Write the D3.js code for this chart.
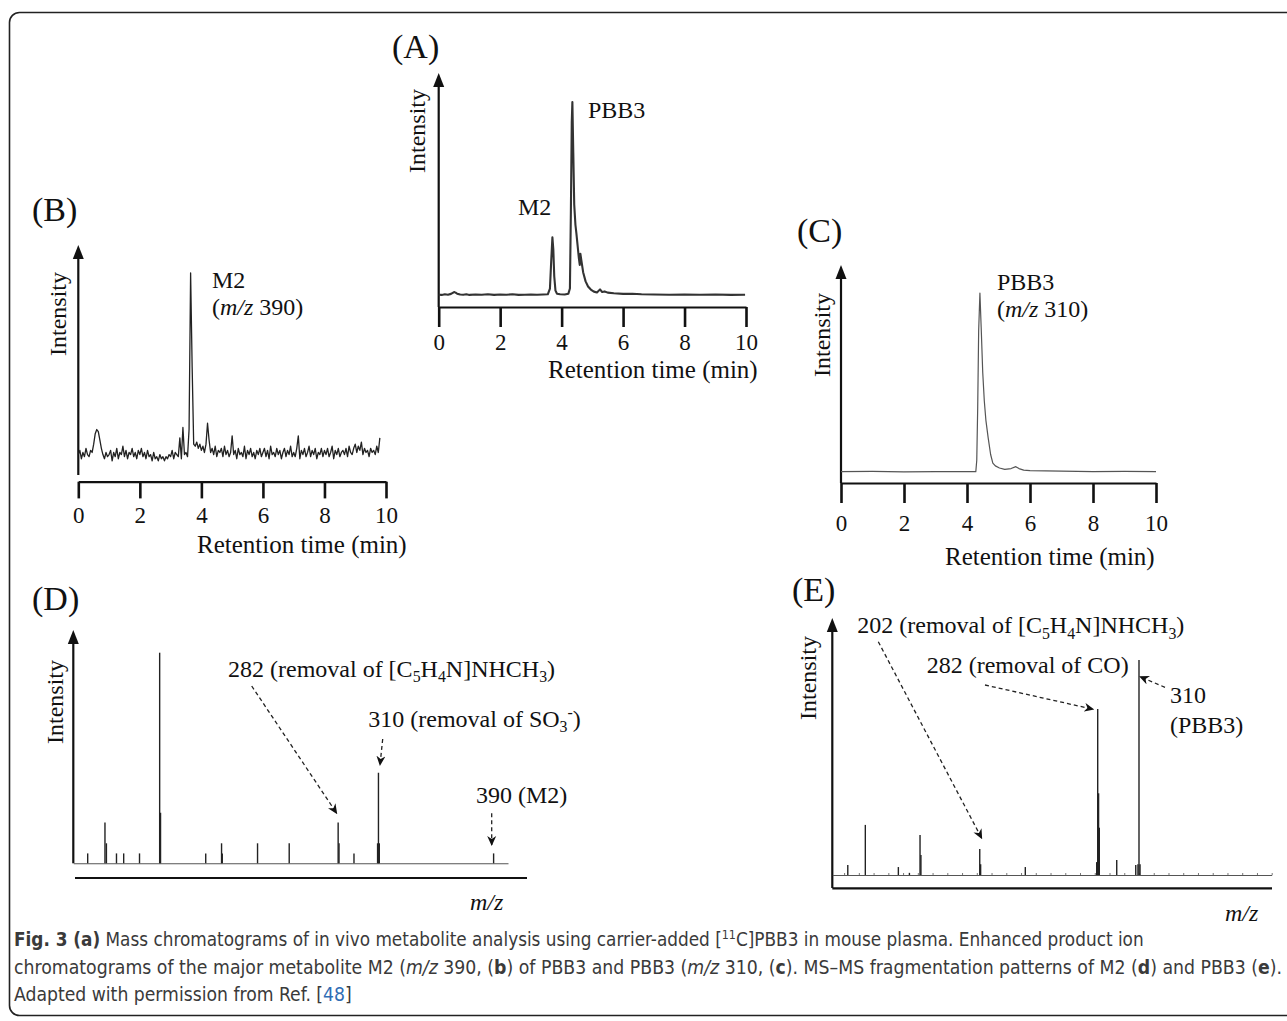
<!DOCTYPE html>
<meta charset="utf-8">
<style>
body { margin: 0; background: #fff; }
svg text { font-family: "Liberation Serif", "Times New Roman", serif; fill: #111; white-space: pre; }
svg .caption text { font-family: "DejaVu Sans Condensed", "DejaVu Sans", sans-serif; font-stretch: condensed; fill: #3a3a3a; }
</style>
<script src="https://d3js.org/d3.v7.min.js"></script>
<body>
<div id="fig"></div>
<script>
// ---------- data ----------
var timeTicks = [0, 2, 4, 6, 8, 10];

// (A) plasma chromatogram: [retention time (min), relative intensity]
var traceA = [
  [0.0,6.0],[0.1,5.9],[0.2,6.2],[0.3,6.0],[0.4,6.4],[0.5,7.3],[0.55,7.0],[0.6,6.5],[0.7,6.1],[0.8,6.0],
  [0.9,6.2],[1.0,5.9],[1.2,6.1],[1.4,6.0],[1.6,6.2],[1.8,5.9],[2.0,6.1],[2.2,6.0],[2.4,6.2],[2.6,5.9],
  [2.8,6.0],[3.0,6.1],[3.2,6.0],[3.4,6.1],[3.55,6.2],[3.62,9],[3.66,22],[3.7,34],[3.73,28],[3.76,15],
  [3.8,8],[3.85,6.5],[3.95,6.2],[4.1,6.1],[4.22,6.5],[4.27,9],[4.3,45],[4.33,90],[4.35,100],[4.38,75],
  [4.41,50],[4.45,40],[4.48,36],[4.52,30],[4.56,24],[4.59,20.5],[4.61,26],[4.64,23],[4.7,17],[4.78,12.5],
  [4.86,10],[4.95,8.5],[5.05,7.5],[5.15,7.1],[5.25,8.6],[5.32,7.3],[5.4,7.6],[5.5,7.0],[5.7,6.7],[6.0,6.4],
  [6.3,6.5],[6.6,6.2],[7.0,6.1],[7.5,6.0],[8.0,6.1],[8.5,6.0],[9.0,6.1],[9.5,5.9],[9.97,6.0]
];

// (B) product ion chromatogram of M2, one value per 0.05 min scan from 0 min
var scanStepB = 0.05;
var intensityB = [
  13,15,11,14,12,16,13,12,15,14,18,23,25,24,20,16,13,11,14,12,
  13,15,10,14,12,16,11,14,13,17,12,15,11,14,13,16,12,14,11,15,
  13,16,12,14,11,15,12,13,10,14,11,12,10,13,11,12,10,12,11,13,
  12,15,11,14,13,12,21,11,26,13,14,12,25,100,55,18,17,19,16,18,
  15,17,14,18,28,20,14,16,13,17,12,15,14,16,12,17,13,15,12,14,
  22,13,15,11,16,13,14,12,17,11,15,13,16,12,14,11,15,13,16,12,
  14,16,12,15,11,17,13,14,12,16,13,15,11,14,16,12,15,13,17,12,
  14,12,16,22,11,15,13,16,12,14,17,12,15,13,16,11,14,13,16,12,
  15,13,16,12,14,17,11,15,13,16,12,14,15,13,16,12,17,14,13,16,
  18,14,17,15,19,13,16,14,15,12,16,14,15,13,17,14,21
];

// (C) product ion chromatogram of PBB3
var traceC = [
  [0,6],[1,6.1],[2,5.9],[3,6],[4,6],[4.28,6],[4.31,12],[4.34,40],[4.37,80],[4.41,100],
  [4.45,82],[4.5,58],[4.55,43],[4.6,33],[4.67,24],[4.75,15],[4.82,10.5],[4.9,9],[5.03,7.9],[5.2,7.2],
  [5.4,7.6],[5.55,8.6],[5.65,7.6],[5.8,6.8],[6,6.5],[7,6.2],[8,6],[9,6.1],[10,6]
];

// (D) MS-MS spectrum of M2: m/z and relative intensity
var mzD  = [108, 120, 121, 128, 133, 144, 158, 158.6, 190, 201, 201.5, 226, 248, 282, 282.6, 293, 309.4, 310, 310.6, 390];
var intD = [4.7, 19.4, 9.5, 4.7, 4.7, 4.7, 100, 24, 4.7, 9.5, 4.7, 9.5, 9.5, 19.4, 9.5, 4.7, 9.5, 43, 9.5, 4.7];

// (E) MS-MS spectrum of PBB3
var mzE  = [112.5, 124.4, 146.8, 154.3, 161.5, 162.1, 202, 202.6, 232.9, 281.3, 282, 282.6, 283.1, 294.9, 307.8, 309.3, 310, 310.7];
var intE = [4.7, 23.3, 3.7, 1, 18.6, 9.3, 12.1, 5, 3.7, 6, 77.2, 38, 22, 7, 4.7, 5, 100, 5];

// ---------- drawing ----------
var svg = d3.select("#fig").append("svg")
    .attr("width", 1287).attr("height", 1021);

var defs = svg.append("defs");
defs.append("marker")
    .attr("id", "dashHead")
    .attr("viewBox", "0 0 10 10")
    .attr("refX", 9).attr("refY", 5)
    .attr("markerWidth", 10).attr("markerHeight", 10)
    .attr("markerUnits", "userSpaceOnUse")
    .attr("orient", "auto")
  .append("path")
    .attr("d", "M0,0.5 L10,5 L0,9.5 L3,5 Z")
    .attr("fill", "#111");

// rounded frame, open past the right edge
svg.append("rect")
    .attr("x", 9.5).attr("y", 12.5)
    .attr("width", 1320).attr("height", 1003)
    .attr("rx", 10)
    .attr("fill", "none").attr("stroke", "#222").attr("stroke-width", 1.6);

// text with sub / superscripts
function richText(parent, x, y, size, parts) {
  var t = parent.append("text").attr("x", x).attr("y", y).attr("font-size", size);
  var shift = 0;
  parts.forEach(function(p) {
    var s = p.sub ? size * 0.24 : (p.sup ? -size * 0.36 : 0);
    t.append("tspan")
      .attr("dy", s - shift)
      .attr("font-size", (p.sub || p.sup) ? size * 0.66 : size)
      .attr("font-style", p.it ? "italic" : null)
      .attr("font-weight", p.b ? "bold" : null)
      .style("fill", p.c || null)
      .text(p.t);
    shift = s;
  });
  return t;
}

function yArrow(x, tip, bottom) {
  svg.append("line")
    .attr("x1", x).attr("x2", x).attr("y1", tip + 8).attr("y2", bottom)
    .attr("stroke", "#111").attr("stroke-width", 2.2);
  svg.append("path")
    .attr("d", "M" + (x - 5.5) + "," + (tip + 14) + " L" + x + "," + tip + " L" + (x + 5.5) + "," + (tip + 14) + " Z")
    .attr("fill", "#111");
}

function rotLabel(cx, cy, size, txt) {
  svg.append("text")
    .attr("transform", "translate(" + cx + "," + cy + ") rotate(-90)")
    .attr("text-anchor", "middle").attr("dy", "0.35em")
    .attr("font-size", size).text(txt);
}

function chromatogram(p) {
  var x = d3.scaleLinear().domain([0, 10]).range([p.x0, p.x1]);
  var y = d3.scaleLinear().domain([0, 100]).range([p.axisY, p.topY]);

  var g = svg.append("g")
      .attr("transform", "translate(0," + p.axisY + ")")
      .call(d3.axisBottom(x).tickValues(timeTicks).tickSize(p.tick).tickSizeOuter(0).tickPadding(p.pad));
  g.attr("font-family", null).attr("font-size", null);
  g.select(".domain").attr("stroke", "#111").attr("stroke-width", 2.2);
  g.selectAll(".tick line").attr("stroke", "#111").attr("stroke-width", 2.6);
  g.selectAll(".tick text").style("font-size", "23px").style("fill", "#111");

  yArrow(p.x0, p.tip, p.yEnd);

  svg.append("path")
    .datum(p.data)
    .attr("fill", "none")
    .attr("stroke", p.color)
    .attr("stroke-width", p.lw)
    .attr("stroke-linejoin", "round")
    .attr("d", d3.line().x(function(d) { return x(d[0]); }).y(function(d) { return y(d[1]); }));

  svg.append("text").attr("x", p.letter[0]).attr("y", p.letter[1]).attr("font-size", 34).text(p.name);
  rotLabel(p.ylab[0], p.ylab[1], 24, "Intensity");
  svg.append("text").attr("x", p.xlab[0]).attr("y", p.xlab[1]).attr("font-size", 25).text("Retention time (min)");
  p.notes.forEach(function(n) { richText(svg, n.x, n.y, 24, n.parts); });
}

chromatogram({
  name: "(A)", data: traceA, color: "#333", lw: 2.1,
  x0: 438.7, x1: 746, axisY: 307, topY: 102, tick: 20, pad: 7, tip: 73, yEnd: 307,
  letter: [392, 58], ylab: [417, 131], xlab: [548, 378],
  notes: [
    {x: 588, y: 118, parts: [{t: "PBB3"}]},
    {x: 518, y: 215, parts: [{t: "M2"}]}
  ]
});

var traceB = intensityB.map(function(v, i) { return [i * scanStepB, v]; });
chromatogram({
  name: "(B)", data: traceB, color: "#222", lw: 1.3,
  x0: 78.3, x1: 386, axisY: 481.7, topY: 273, tick: 16.7, pad: 8, tip: 245, yEnd: 475,
  letter: [32, 221], ylab: [58, 314], xlab: [197, 553],
  notes: [
    {x: 212, y: 288, parts: [{t: "M2"}]},
    {x: 212, y: 315, parts: [{t: "("}, {t: "m/z", it: 1}, {t: " 390)"}]}
  ]
});

chromatogram({
  name: "(C)", data: traceC, color: "#555", lw: 1.2,
  x0: 841, x1: 1156, axisY: 483, topY: 293, tick: 20, pad: 12, tip: 265, yEnd: 483,
  letter: [797, 242], ylab: [822, 335], xlab: [945, 565],
  notes: [
    {x: 997, y: 290, parts: [{t: "PBB3"}]},
    {x: 997, y: 317, parts: [{t: "("}, {t: "m/z", it: 1}, {t: " 310)"}]}
  ]
});

function spectrum(p) {
  var x = d3.scaleLinear().domain(p.domain).range([p.x0, p.x1]);
  var y = d3.scaleLinear().domain([0, 100]).range([p.baseY, p.topY]);

  yArrow(p.x0, p.tip, p.yEnd);
  // m/z axis line
  svg.append("line")
    .attr("x1", p.axis[0]).attr("x2", p.axis[1]).attr("y1", p.axisY).attr("y2", p.axisY)
    .attr("stroke", "#111").attr("stroke-width", 2.2);
  // spectrum baseline with faint scan ticks
  var b = svg.append("g")
      .attr("transform", "translate(0," + p.baseY + ")")
      .call(d3.axisTop(x).ticks(p.minorTicks).tickSize(p.minorTicks ? 2 : 0).tickSizeOuter(0).tickFormat(""));
  b.select(".domain").attr("stroke", "#555").attr("stroke-width", 1.1);
  b.selectAll(".tick line").attr("stroke", "#777").attr("stroke-width", 1);

  svg.append("g").selectAll("line")
    .data(p.mz)
    .enter().append("line")
      .attr("x1", function(d) { return x(d); })
      .attr("x2", function(d) { return x(d); })
      .attr("y1", y(0))
      .attr("y2", function(d, i) { return y(p.int[i]); })
      .attr("stroke", "#222")
      .attr("stroke-width", 1.4);

  svg.append("text").attr("x", p.letter[0]).attr("y", p.letter[1]).attr("font-size", 34).text(p.name);
  rotLabel(p.ylab[0], p.ylab[1], 24, "Intensity");
  richText(svg, p.mzlab[0], p.mzlab[1], 24, [{t: "m/z", it: 1}]);

  p.notes.forEach(function(n) { richText(svg, n.x, n.y, 24, n.parts); });
  p.arrows.forEach(function(a) {
    svg.append("line")
      .attr("x1", a[0]).attr("y1", a[1]).attr("x2", a[2]).attr("y2", a[3])
      .attr("stroke", "#222").attr("stroke-width", 1.3)
      .attr("stroke-dasharray", "4,3")
      .attr("marker-end", "url(#dashHead)");
  });
}

spectrum({
  name: "(D)", mz: mzD, int: intD, domain: [98, 400],
  x0: 73.3, x1: 508, baseY: 863.3, topY: 652.7, tip: 630, yEnd: 863.3,
  axis: [75, 527], axisY: 878, minorTicks: 0,
  letter: [32, 610], ylab: [55, 702], mzlab: [470, 910],
  notes: [
    {x: 228, y: 676.7, parts: [{t: "282 (removal of [C"}, {t: "5", sub: 1}, {t: "H"}, {t: "4", sub: 1}, {t: "N]NHCH"}, {t: "3", sub: 1}, {t: ")"}]},
    {x: 368.3, y: 726.7, parts: [{t: "310 (removal of SO"}, {t: "3", sub: 1}, {t: "-", sup: 1}, {t: ")"}]},
    {x: 476, y: 803.3, parts: [{t: "390 (M2)"}]}
  ],
  arrows: [[251.7, 686, 336.7, 813.3], [382.7, 739, 380, 765], [491.7, 813.3, 491.7, 845]]
});

spectrum({
  name: "(E)", mz: mzE, int: intE, domain: [102, 400],
  x0: 832.3, x1: 1271.7, baseY: 875, topY: 660, tip: 618, yEnd: 888,
  axis: [832.3, 1272], axisY: 888.3, minorTicks: 30,
  letter: [792, 601], ylab: [808, 678], mzlab: [1225, 921],
  notes: [
    {x: 857.3, y: 633.3, parts: [{t: "202 (removal of [C"}, {t: "5", sub: 1}, {t: "H"}, {t: "4", sub: 1}, {t: "N]NHCH"}, {t: "3", sub: 1}, {t: ")"}]},
    {x: 926.7, y: 673.3, parts: [{t: "282 (removal of CO)"}]},
    {x: 1170, y: 703.3, parts: [{t: "310"}]},
    {x: 1170, y: 733.3, parts: [{t: "(PBB3)"}]}
  ],
  arrows: [[878.3, 641.7, 981.7, 838.3], [985, 685, 1093.3, 709.3], [1165, 687.3, 1140, 676.7]]
});

// ---------- caption ----------
var captionLines = [
  [{t: "Fig. 3 (a)", b: 1}, {t: " Mass chromatograms of in vivo metabolite analysis using carrier-added ["}, {t: "11", sup: 1}, {t: "C]PBB3 in mouse plasma. Enhanced product ion"}],
  [{t: "chromatograms of the major metabolite M2 ("}, {t: "m/z", it: 1}, {t: " 390, ("}, {t: "b", b: 1}, {t: ") of PBB3 and PBB3 ("}, {t: "m/z", it: 1}, {t: " 310, ("}, {t: "c", b: 1}, {t: "). MS\u2013MS fragmentation patterns of M2 ("}, {t: "d", b: 1}, {t: ") and PBB3 ("}, {t: "e", b: 1}, {t: ")."}],
  [{t: "Adapted with permission from Ref. ["}, {t: "48", c: "#2f6db5"}, {t: "]"}]
];
var captionY = [946, 974, 1001];
var captionWidth = [1131, 1269, 338];   // measured line lengths in the figure
var cap = svg.append("g").attr("class", "caption");
captionLines.forEach(function(parts, i) {
  var t = richText(cap, 0, captionY[i], 19, parts);
  var k = captionWidth[i] / t.node().getComputedTextLength();
  t.attr("transform", "translate(14,0) scale(" + k + ",1)");
});
</script>
</body>
